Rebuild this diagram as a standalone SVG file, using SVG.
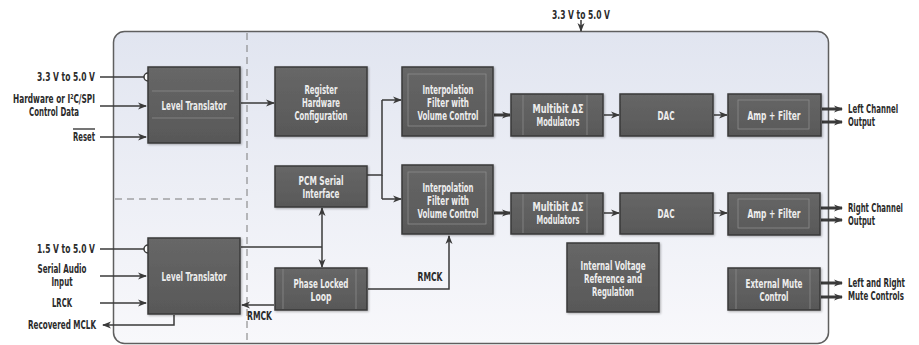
<svg xmlns="http://www.w3.org/2000/svg" width="919" height="345" viewBox="0 0 919 345">
<style>
.n{fill:#ededed;font-family:"Liberation Sans Narrow","DejaVu Sans Condensed","Liberation Sans",sans-serif;font-weight:bold;font-size:12px;text-anchor:middle}
.l{fill:#2b2b2b;font-family:"Liberation Sans Narrow","DejaVu Sans Condensed","Liberation Sans",sans-serif;font-weight:bold;font-size:12px}
.m{text-anchor:middle}
.e{text-anchor:end}
.box{fill:url(#bg);stroke:#3a3a3a;stroke-width:1.5;filter:url(#sh)}
.in{fill:none;stroke:#8c8c8c;stroke-width:0.8}
.c{fill:none;stroke:#3a3a3a;stroke-width:1.5}
.t{fill:none;stroke:#3a3a3a;stroke-width:3}
.a{marker-end:url(#ah)}
.dash{fill:none;stroke:#7a7a7a;stroke-width:1;stroke-dasharray:7 5}
</style>
<defs>
<linearGradient id="fr" x1="0" y1="0" x2="0" y2="1">
<stop offset="0" stop-color="#e1e5f0"/>
<stop offset="1" stop-color="#f8f8fb"/>
</linearGradient>
<linearGradient id="bg" x1="0" y1="0" x2="0" y2="1">
<stop offset="0" stop-color="#676767"/>
<stop offset="1" stop-color="#585858"/>
</linearGradient>
<filter id="sh" x="-20%" y="-20%" width="140%" height="140%">
<feDropShadow dx="1" dy="1" stdDeviation="1" flood-color="#000" flood-opacity="0.3"/>
</filter>
<marker id="ah" markerUnits="userSpaceOnUse" markerWidth="10" markerHeight="8" refX="8" refY="4" orient="auto">
<path d="M0,0.5 L9,4 L0,7.5 L2.5,4 z" fill="#3a3a3a"/>
</marker>
</defs>

<rect x="113.5" y="31.5" width="715" height="312" rx="11" fill="url(#fr)" stroke="#5f5f5f" stroke-width="1.5"/>
<line class="dash" x1="247" y1="33" x2="247" y2="343"/>
<line class="dash" x1="115" y1="199" x2="247" y2="199"/>

<g id="connectors">
<path class="c a" d="M581,20 V31"/>
<path class="c" d="M100,77 H144"/>
<circle cx="148" cy="77" r="4" fill="#fff" stroke="#3a3a3a" stroke-width="1.5"/>
<path class="c a" d="M100,106 H146"/>
<path class="c a" d="M100,137 H146"/>
<path class="c a" d="M241,103 H274"/>
<path class="c" d="M367,175 H382 V100"/>
<path class="c" d="M382,175 V199"/>
<path class="c a" d="M382,100 H401"/>
<path class="c a" d="M382,199 H401"/>
<path class="t a" d="M494,115 H510"/>
<path class="c a" d="M604,115 H619"/>
<path class="c a" d="M714,115 H727"/>
<path class="t a" d="M822,109 H842"/>
<path class="t a" d="M822,122 H842"/>
<path class="t a" d="M494,213 H510"/>
<path class="c a" d="M604,213 H619"/>
<path class="c a" d="M714,213 H727"/>
<path class="t a" d="M821,208 H842"/>
<path class="t a" d="M821,220 H842"/>
<path class="t a" d="M821,283 H842"/>
<path class="t a" d="M821,297 H842"/>
<path class="c" d="M100,249 H144"/>
<circle cx="148" cy="249" r="4" fill="#fff" stroke="#3a3a3a" stroke-width="1.5"/>
<path class="c a" d="M100,276 H146"/>
<path class="c a" d="M100,303 H146"/>
<path class="c a" d="M174,315 V325 H103"/>
<path class="c" d="M241,247 H322"/>
<path class="c a" d="M322,247 V267"/>
<path class="c a" d="M322,247 V208"/>
<path class="c a" d="M274,305 H242"/>
<path class="c a" d="M368,289 H449 V236"/>
</g>

<g id="level-translator-1">
<rect class="box" x="148" y="67" width="92" height="76"/>
<path class="in" d="M152,91 H234 M152,118 H234"/>
<text class="n" x="194" y="110" textLength="65" lengthAdjust="spacingAndGlyphs">Level Translator</text>
</g>
<g id="register-hw-config">
<rect class="box" x="275" y="67" width="92" height="69"/>
<text class="n" x="321" y="94" textLength="33" lengthAdjust="spacingAndGlyphs">Register</text>
<text class="n" x="321" y="107" textLength="38" lengthAdjust="spacingAndGlyphs">Hardware</text>
<text class="n" x="321" y="120" textLength="53" lengthAdjust="spacingAndGlyphs">Configuration</text>
</g>
<g id="pcm-serial">
<rect class="box" x="275" y="166" width="92" height="41"/>
<text class="n" x="321" y="185" textLength="45" lengthAdjust="spacingAndGlyphs">PCM Serial</text>
<text class="n" x="321" y="198" textLength="37" lengthAdjust="spacingAndGlyphs">Interface</text>
</g>
<g id="pll">
<rect class="box" x="275" y="268" width="92" height="42"/>
<path class="in" d="M283,269 V309 M356,269 V309"/>
<text class="n" x="321" y="288" textLength="55" lengthAdjust="spacingAndGlyphs">Phase Locked</text>
<text class="n" x="321" y="301" textLength="21" lengthAdjust="spacingAndGlyphs">Loop</text>
</g>
<g id="interp-1">
<rect class="box" x="402" y="67" width="91" height="69"/>
<rect class="in" x="408" y="74" width="78" height="52"/>
<text class="n" x="448" y="94" textLength="51" lengthAdjust="spacingAndGlyphs">Interpolation</text>
<text class="n" x="448" y="107" textLength="42" lengthAdjust="spacingAndGlyphs">Filter with</text>
<text class="n" x="448" y="120" textLength="61" lengthAdjust="spacingAndGlyphs">Volume Control</text>
</g>
<g id="interp-2">
<rect class="box" x="402" y="165" width="91" height="69"/>
<rect class="in" x="408" y="172" width="78" height="52"/>
<text class="n" x="448" y="192" textLength="51" lengthAdjust="spacingAndGlyphs">Interpolation</text>
<text class="n" x="448" y="205" textLength="42" lengthAdjust="spacingAndGlyphs">Filter with</text>
<text class="n" x="448" y="218" textLength="61" lengthAdjust="spacingAndGlyphs">Volume Control</text>
</g>
<g id="multibit-1">
<rect class="box" x="511" y="94" width="92" height="42"/>
<path class="in" d="M523,95 V135 M587,95 V135"/>
<text class="n" x="558" y="113" textLength="51" lengthAdjust="spacingAndGlyphs">Multibit ΔΣ</text>
<text class="n" x="558" y="126" textLength="43" lengthAdjust="spacingAndGlyphs">Modulators</text>
</g>
<g id="multibit-2">
<rect class="box" x="511" y="193" width="92" height="41"/>
<path class="in" d="M523,194 V233 M587,194 V233"/>
<text class="n" x="558" y="211" textLength="51" lengthAdjust="spacingAndGlyphs">Multibit ΔΣ</text>
<text class="n" x="558" y="224" textLength="43" lengthAdjust="spacingAndGlyphs">Modulators</text>
</g>
<g id="dac-1">
<rect class="box" x="620" y="94" width="93" height="42"/>
<text class="n" x="666" y="120" textLength="17" lengthAdjust="spacingAndGlyphs">DAC</text>
</g>
<g id="dac-2">
<rect class="box" x="620" y="193" width="93" height="41"/>
<text class="n" x="666" y="218" textLength="17" lengthAdjust="spacingAndGlyphs">DAC</text>
</g>
<g id="amp-1">
<rect class="box" x="728" y="94" width="93" height="42"/>
<rect class="in" x="738" y="100" width="71" height="29"/>
<text class="n" x="774" y="120" textLength="53" lengthAdjust="spacingAndGlyphs">Amp + Filter</text>
</g>
<g id="amp-2">
<rect class="box" x="728" y="193" width="92" height="42"/>
<rect class="in" x="738" y="199" width="71" height="29"/>
<text class="n" x="774" y="218" textLength="53" lengthAdjust="spacingAndGlyphs">Amp + Filter</text>
</g>
<g id="internal-voltage">
<rect class="box" x="567" y="243" width="92" height="69"/>
<text class="n" x="613" y="270" textLength="65" lengthAdjust="spacingAndGlyphs">Internal Voltage</text>
<text class="n" x="613" y="283" textLength="58" lengthAdjust="spacingAndGlyphs">Reference and</text>
<text class="n" x="613" y="296" textLength="42" lengthAdjust="spacingAndGlyphs">Regulation</text>
</g>
<g id="external-mute">
<rect class="box" x="728" y="268" width="92" height="42"/>
<path class="in" d="M736,269 V309 M810,269 V309"/>
<text class="n" x="774" y="288" textLength="57" lengthAdjust="spacingAndGlyphs">External Mute</text>
<text class="n" x="774" y="301" textLength="29" lengthAdjust="spacingAndGlyphs">Control</text>
</g>
<g id="level-translator-2">
<rect class="box" x="148" y="238" width="92" height="76"/>
<text class="n" x="194" y="281" textLength="65" lengthAdjust="spacingAndGlyphs">Level Translator</text>
</g>

<g id="labels">
<text class="l m" x="581" y="19" textLength="58" lengthAdjust="spacingAndGlyphs">3.3 V to 5.0 V</text>
<text class="l e" x="95" y="81" textLength="58" lengthAdjust="spacingAndGlyphs">3.3 V to 5.0 V</text>
<text class="l m" x="54" y="103" textLength="82" lengthAdjust="spacingAndGlyphs">Hardware or I²C/SPI</text>
<text class="l m" x="54" y="116" textLength="50" lengthAdjust="spacingAndGlyphs">Control Data</text>
<line x1="73" y1="129" x2="95" y2="129" stroke="#2b2b2b" stroke-width="1.3"/>
<text class="l e" x="95" y="141" textLength="22" lengthAdjust="spacingAndGlyphs">Reset</text>
<text class="l e" x="95" y="253" textLength="58" lengthAdjust="spacingAndGlyphs">1.5 V to 5.0 V</text>
<text class="l m" x="62" y="273" textLength="49" lengthAdjust="spacingAndGlyphs">Serial Audio</text>
<text class="l m" x="62" y="286" textLength="21" lengthAdjust="spacingAndGlyphs">Input</text>
<text class="l m" x="62" y="307" textLength="20" lengthAdjust="spacingAndGlyphs">LRCK</text>
<text class="l e" x="96" y="329" textLength="68" lengthAdjust="spacingAndGlyphs">Recovered MCLK</text>
<text class="l" x="247" y="320" textLength="25" lengthAdjust="spacingAndGlyphs">RMCK</text>
<text class="l m" x="430" y="281" textLength="25" lengthAdjust="spacingAndGlyphs">RMCK</text>
<text class="l" transform="translate(848,113) scale(0.65,1)" textLength="77" lengthAdjust="spacingAndGlyphs">Left Channel</text>
<text class="l" transform="translate(848,126) scale(0.65,1)" textLength="41.5" lengthAdjust="spacingAndGlyphs">Output</text>
<text class="l" transform="translate(848,212) scale(0.65,1)" textLength="84.6" lengthAdjust="spacingAndGlyphs">Right Channel</text>
<text class="l" transform="translate(848,225) scale(0.65,1)" textLength="41.5" lengthAdjust="spacingAndGlyphs">Output</text>
<text class="l" transform="translate(848,287) scale(0.65,1)" textLength="87.7" lengthAdjust="spacingAndGlyphs">Left and Right</text>
<text class="l" transform="translate(848,300) scale(0.65,1)" textLength="86" lengthAdjust="spacingAndGlyphs">Mute Controls</text>
</g>
</svg>
